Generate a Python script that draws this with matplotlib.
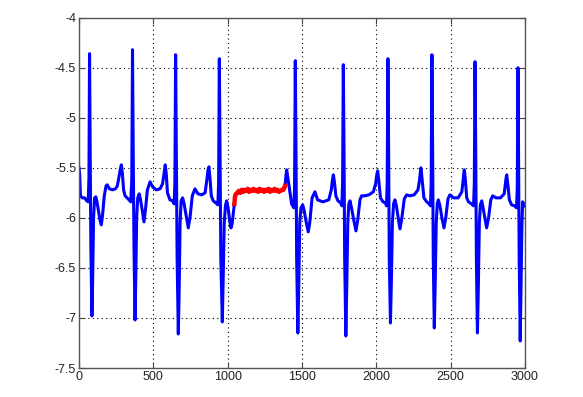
import numpy as np
import matplotlib.pyplot as plt

plt.rcParams['font.family'] = ['Liberation Sans', 'DejaVu Sans']
plt.rcParams['axes.unicode_minus'] = False

# blue trace, first part (before the red segment)
blue1_x = [0, 4, 10, 22, 38, 52, 62, 67, 71, 76, 80, 87, 92, 98, 105, 113, 121, 130, 141, 150, 158, 170, 182, 190,
           205, 225, 245, 258, 268, 277, 285, 292, 300, 310, 330, 348, 355,
           360, 365, 370, 377, 382, 388, 395, 405, 414, 425, 437, 447, 460, 478, 495, 520, 545, 562, 572, 580,
           587, 595, 612, 630, 640, 645,
           650, 655, 660, 668, 674, 680, 687, 697, 707, 720, 735, 748, 762, 780, 800, 825, 848, 860, 868, 874,
           881, 890, 903, 920, 934, 939,
           944, 949, 954, 964, 970, 977, 985, 993, 1003, 1013, 1022, 1030, 1036, 1045]
blue1_y = [-5.50, -5.55, -5.78, -5.80, -5.80, -5.83, -5.84, -5.60, -4.36, -5.50, -6.30, -6.98, -6.60, -6.00, -5.80,
           -5.79, -5.84, -5.92, -6.02, -6.07, -5.98, -5.78, -5.68, -5.67, -5.71, -5.72, -5.71, -5.68, -5.60,
           -5.52, -5.47, -5.56, -5.72, -5.78, -5.81, -5.84, -5.62,
           -4.32, -5.40, -6.30, -7.02, -6.60, -6.00, -5.80, -5.76, -5.82, -5.92, -6.04, -5.92, -5.72, -5.64,
           -5.69, -5.72, -5.71, -5.66, -5.56, -5.47, -5.56, -5.75, -5.82, -5.83, -5.86, -5.65,
           -4.37, -5.40, -6.40, -7.16, -6.70, -6.05, -5.83, -5.80, -5.86, -5.97, -6.10, -5.98, -5.78, -5.71,
           -5.76, -5.77, -5.75, -5.62, -5.52, -5.49, -5.60, -5.78, -5.83, -5.85, -5.87, -5.66,
           -4.41, -5.40, -6.40, -7.04, -6.60, -6.05, -5.88, -5.83, -5.90, -6.02, -6.10, -6.06, -5.98, -5.86]

# red segment (reconstructed gap)
red_x = [1045, 1050, 1056, 1065, 1075, 1085, 1095, 1105, 1115, 1125, 1135, 1145, 1155, 1165, 1175, 1185, 1195,
         1205, 1215, 1225, 1235, 1245, 1255, 1265, 1275, 1285, 1295, 1305, 1315, 1325, 1335, 1345, 1355, 1365,
         1375, 1386]
red_y = [-5.86, -5.78, -5.76, -5.75, -5.73, -5.75, -5.72, -5.74, -5.72, -5.73, -5.71, -5.74, -5.72, -5.73,
         -5.71, -5.73, -5.72, -5.74, -5.71, -5.73, -5.72, -5.74, -5.72, -5.73, -5.71, -5.74, -5.72, -5.73,
         -5.71, -5.73, -5.72, -5.74, -5.73, -5.72, -5.72, -5.68]

# blue trace, second part
blue2_x = [1386, 1392, 1397, 1405, 1419, 1430, 1445, 1450,
           1455, 1460, 1464, 1472, 1478, 1485, 1493, 1505, 1515, 1528, 1542, 1552, 1568, 1587, 1605, 1640, 1680,
           1697, 1705, 1711, 1718, 1728, 1742, 1760, 1768, 1773,
           1778, 1783, 1787, 1795, 1801, 1808, 1815, 1823, 1833, 1848, 1863, 1875, 1890, 1901, 1920, 1950, 1980,
           1995, 2003, 2009, 2016, 2028, 2045, 2062, 2068, 2073,
           2078, 2083, 2087, 2095, 2101, 2108, 2116, 2125, 2135, 2147, 2159, 2172, 2188, 2204, 2225, 2255, 2280,
           2290, 2296, 2300, 2307, 2320, 2339, 2355, 2364, 2369,
           2374, 2379, 2383, 2390, 2396, 2403, 2410, 2417, 2428, 2441, 2455, 2467, 2482, 2495, 2520, 2550, 2575,
           2583, 2588, 2592, 2599, 2608, 2620, 2640, 2654, 2659,
           2664, 2669, 2673, 2680, 2686, 2693, 2700, 2709, 2718, 2730, 2742, 2755, 2770, 2783, 2805, 2835, 2860,
           2868, 2873, 2877, 2884, 2895, 2910, 2930, 2943, 2948,
           2953, 2957, 2961, 2968, 2973, 2979, 2984, 2992, 3000]
blue2_y = [-5.68, -5.58, -5.52, -5.60, -5.75, -5.86, -5.90, -5.70,
           -4.43, -5.40, -6.40, -7.15, -6.70, -6.05, -5.90, -5.87, -5.93, -6.04, -6.14, -6.05, -5.80, -5.74,
           -5.82, -5.84, -5.82, -5.72, -5.62, -5.57, -5.64, -5.78, -5.83, -5.85, -5.88, -5.66,
           -4.47, -5.40, -6.40, -7.18, -6.70, -6.05, -5.86, -5.83, -5.90, -6.02, -6.13, -6.02, -5.82, -5.78,
           -5.78, -5.77, -5.74, -5.66, -5.57, -5.53, -5.62, -5.80, -5.84, -5.85, -5.88, -5.66,
           -4.41, -5.40, -6.40, -7.05, -6.65, -6.05, -5.86, -5.82, -5.88, -6.00, -6.11, -6.00, -5.81, -5.77,
           -5.78, -5.77, -5.72, -5.63, -5.55, -5.50, -5.60, -5.80, -5.84, -5.86, -5.88, -5.66,
           -4.37, -5.40, -6.40, -7.10, -6.65, -6.05, -5.86, -5.82, -5.88, -6.00, -6.10, -6.00, -5.81, -5.77,
           -5.80, -5.80, -5.74, -5.64, -5.56, -5.52, -5.62, -5.80, -5.84, -5.86, -5.88, -5.66,
           -4.44, -5.40, -6.40, -7.15, -6.70, -6.05, -5.87, -5.83, -5.90, -6.00, -6.10, -6.00, -5.82, -5.78,
           -5.80, -5.80, -5.76, -5.66, -5.60, -5.57, -5.66, -5.82, -5.87, -5.88, -5.90, -5.70,
           -4.50, -5.50, -6.40, -7.23, -6.70, -6.10, -5.84, -5.86, -5.88]

x_ticks = [0, 500, 1000, 1500, 2000, 2500, 3000]
y_ticks = [-7.5, -7, -6.5, -6, -5.5, -5, -4.5, -4]

fig = plt.figure(figsize=(5.83, 3.97), dpi=100)
ax = fig.add_axes([0.1355, 0.073, 0.765, 0.8825])

ax.plot(blue1_x, blue1_y, color='#0000ff', lw=2.2, solid_joinstyle='round')
ax.plot(blue2_x, blue2_y, color='#0000ff', lw=2.2, solid_joinstyle='round')
ax.plot(red_x, red_y, color='#ff0000', lw=3.2, solid_joinstyle='round')

ax.set_xlim(0, 3000)
ax.set_ylim(-7.5, -4)
ax.set_xticks(x_ticks)
ax.set_yticks(y_ticks)
ax.set_xticklabels([str(t) for t in x_ticks])
ax.set_yticklabels(['-7.5', '-7', '-6.5', '-6', '-5.5', '-5', '-4.5', '-4'])

ax.grid(True, linestyle=(0, (1, 3)), color='black', lw=0.8)
ax.tick_params(direction='in', length=4, width=0.8, colors='#444444', labelcolor='#222222',
               labelsize=9, top=True, right=True, pad=2)
for s in ax.spines.values():
    s.set_color('#555555')
    s.set_linewidth(1.0)

fig.savefig('out.png', dpi=100)
